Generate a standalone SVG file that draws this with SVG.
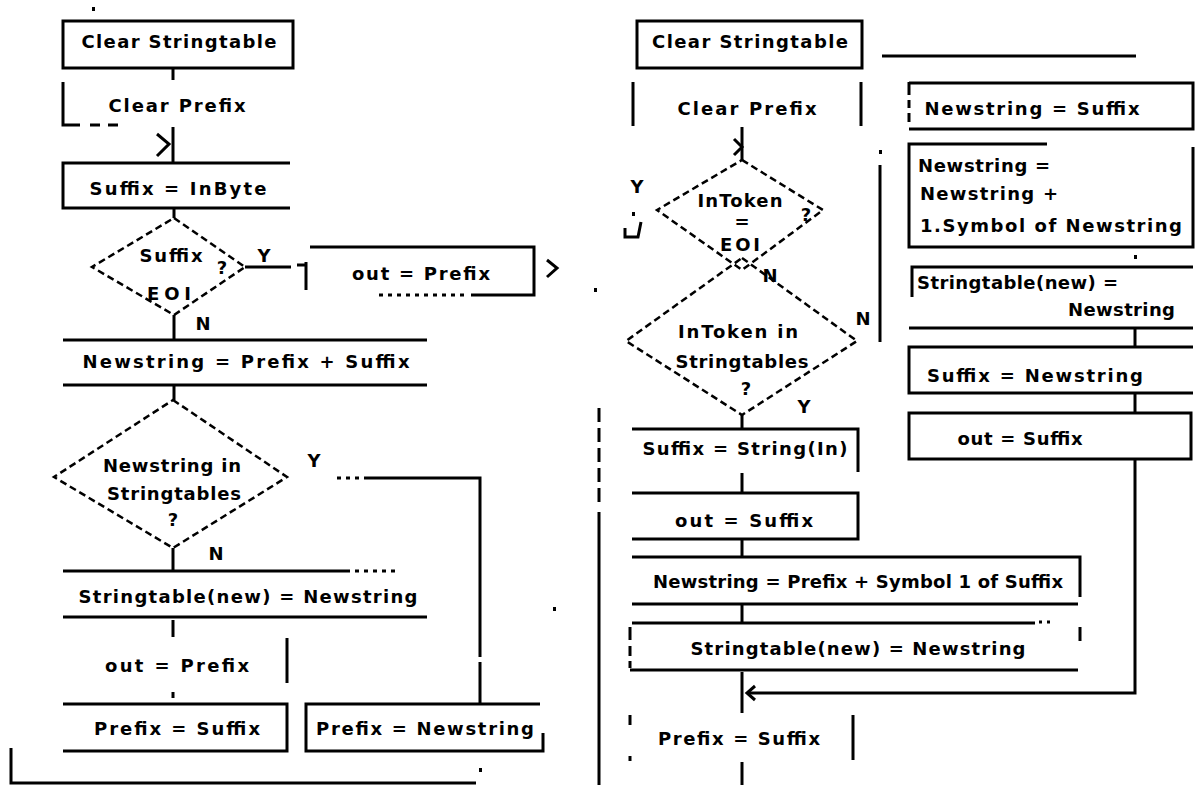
<svg xmlns="http://www.w3.org/2000/svg" width="1198" height="785" viewBox="0 0 1198 785">
<style>
.ln{stroke:#000;stroke-width:3;fill:none}
.dm{stroke:#000;stroke-width:2.5;fill:none;stroke-dasharray:7 4}
.dt{stroke:#000;stroke-width:3;fill:none;stroke-dasharray:4 5}
.t{font-family:"DejaVu Sans",sans-serif;font-size:18px;font-weight:bold;fill:#000}
.c{text-anchor:middle}
.e{text-anchor:end}
.dot{fill:#000}
</style>
<rect width="1198" height="785" fill="#fff"/>

<g id="connectors">
  <path class="ln" d="M173 68 V80"/>
  <path class="ln" d="M173 127 V163"/>
  <path class="ln" d="M157 134 L169 144 L157 156" stroke-width="2.5"/>
  <path class="ln" d="M174 208 V218"/>
  <path class="ln" d="M245 267 H291 M297 265 H306"/>
  <path class="ln" d="M547 260 L557 268 L547 277" stroke-width="2.5"/>
  <path class="ln" d="M174 315 V340"/>
  <path class="ln" d="M174 385 V400"/>
  <path class="ln" d="M173 548 V571"/>
  <path class="dt" d="M337 478 H367"/>
  <path class="ln" d="M367 478 H480 V657 M480 662 V704"/>
  <path class="ln" d="M173 620 V637"/>
  <path class="ln" d="M173 692 V698"/>
  <path class="ln" d="M11 748 V783 H476"/>
  <path class="ln" d="M599 408 V505" stroke-dasharray="14 6"/>
  <path class="ln" d="M599 512 V785"/>
  <rect class="dot" x="92" y="7" width="3" height="4"/>
  <rect class="dot" x="594" y="288" width="3" height="4"/>
  <rect class="dot" x="553" y="607" width="3" height="4"/>
  <rect class="dot" x="479" y="768" width="3" height="4"/>

  <path class="ln" d="M882 56 H1136"/>
  <path class="ln" d="M742 127 V160"/>
  <path class="ln" d="M734 139 L742 147 L734 155" stroke-width="2.5"/>
  <path class="ln" d="M625 228 V237 H638 L641 222" stroke-width="2.5"/>
  <rect class="dot" x="632" y="212" width="3" height="4"/>
  <path class="ln" d="M880 165 V342"/>
  <rect class="dot" x="879" y="150" width="3" height="4"/>
  <path class="ln" d="M742 415 V428"/>
  <path class="ln" d="M742 473 V493"/>
  <path class="ln" d="M742 540 V557"/>
  <path class="ln" d="M742 604 V623"/>
  <path class="ln" d="M742 672 V713"/>
  <path class="ln" d="M742 762 V785"/>
  <path class="ln" d="M1135 328 V347"/>
  <path class="ln" d="M1135 393 V413"/>
  <path class="ln" d="M1135 459 V693 H748"/>
  <path class="ln" d="M755 686 L747 693 L755 700" stroke-width="2.5"/>
  <rect class="dot" x="1134" y="255" width="3" height="4"/>

  <text class="t c" x="264" y="262">Y</text>
  <text class="t c" x="203" y="330">N</text>
  <text class="t c" x="314" y="467">Y</text>
  <text class="t c" x="216" y="560">N</text>
  <text class="t c" x="637" y="193">Y</text>
  <text class="t c" x="770" y="282">N</text>
  <text class="t c" x="804" y="413">Y</text>
  <text class="t c" x="863" y="325">N</text>
</g>

<g id="l-clear-table">
  <rect class="ln" x="63" y="21" width="230" height="47"/>
  <text class="t c" x="179" y="48" textLength="195">Clear Stringtable</text>
</g>
<g id="l-clear-prefix">
  <path class="ln" d="M63 82 V125 H80 M90 125 H100 M108 125 H118"/>
  <text class="t c" x="177" y="112" textLength="137">Clear Prefix</text>
</g>
<g id="l-suffix-inbyte">
  <path class="ln" d="M290 163 H63 V208 H290"/>
  <text class="t c" x="178" y="195" textLength="177">Suffix = InByte</text>
</g>
<g id="l-dec-eoi">
  <polygon class="dm" points="174,218 245,267 174,315 92,267"/>
  <text class="t c" x="171" y="262" textLength="63">Suffix</text>
  <text class="t c" x="169" y="300" textLength="44">EOI</text>
  <text class="t c" x="222" y="274">?</text>
</g>
<g id="l-out-prefix1">
  <path class="ln" d="M310 247 H534 V295 H471 M306 262 V290"/>
  <path class="dt" d="M379 295 H466"/>
  <text class="t c" x="421" y="280" textLength="138">out = Prefix</text>
</g>
<g id="l-newstring">
  <path class="ln" d="M63 340 H427 M63 385 H427"/>
  <text class="t c" x="246" y="368" textLength="327">Newstring = Prefix + Suffix</text>
</g>
<g id="l-dec-in">
  <polygon class="dm" points="173,400 287,477 173,548 54,477"/>
  <text class="t c" x="172" y="472" textLength="138">Newstring in</text>
  <text class="t c" x="174" y="500" textLength="134">Stringtables</text>
  <text class="t c" x="173" y="526">?</text>
</g>
<g id="l-stringtable">
  <path class="ln" d="M63 571 H350 M63 617 H427"/>
  <path class="dt" d="M355 571 H397"/>
  <text class="t c" x="248" y="603" textLength="339">Stringtable(new) = Newstring</text>
</g>
<g id="l-out-prefix2">
  <path class="ln" d="M287 638 V683"/>
  <text class="t c" x="177" y="672" textLength="144">out = Prefix</text>
</g>
<g id="l-prefix-suffix">
  <path class="ln" d="M63 704 H287 V751 H63"/>
  <text class="t c" x="177" y="735" textLength="166">Prefix = Suffix</text>
</g>
<g id="l-prefix-newstring">
  <path class="ln" d="M540 704 H306 V751 H543 V733"/>
  <text class="t c" x="425" y="735" textLength="218">Prefix = Newstring</text>
</g>

<g id="r-clear-table">
  <rect class="ln" x="637" y="21" width="225" height="47"/>
  <text class="t c" x="750" y="48" textLength="196">Clear Stringtable</text>
</g>
<g id="r-clear-prefix">
  <path class="ln" d="M633 82 V126 M861 82 V126"/>
  <text class="t c" x="747" y="115" textLength="139">Clear Prefix</text>
</g>
<g id="r-dec-eoi">
  <polygon class="dm" points="742,160 823,210 742,270 657,210"/>
  <text class="t c" x="740" y="207" textLength="85">InToken</text>
  <text class="t c" x="742" y="228" font-size="13">=</text>
  <text class="t c" x="740" y="251" textLength="40">EOI</text>
  <text class="t c" x="806" y="221">?</text>
</g>
<g id="r-dec-in">
  <polygon class="dm" points="742,258 857,341 742,415 626,341"/>
  <text class="t c" x="738" y="338" textLength="120">InToken in</text>
  <text class="t c" x="742" y="368" textLength="133">Stringtables</text>
  <text class="t c" x="746" y="395">?</text>
</g>
<g id="r-suffix-string">
  <path class="ln" d="M632 429 H858 V472"/>
  <text class="t c" x="745" y="455" textLength="205">Suffix = String(In)</text>
</g>
<g id="r-out-suffix">
  <path class="ln" d="M632 493 H858 V539 H632"/>
  <text class="t c" x="744" y="527" textLength="138">out = Suffix</text>
</g>
<g id="r-newstring">
  <path class="ln" d="M632 557 H1080 V597 M632 604 H1078"/>
  <text class="t c" x="858" y="588" textLength="410">Newstring = Prefix + Symbol 1 of Suffix</text>
</g>
<g id="r-stringtable">
  <path class="ln" d="M632 623 H1035 M630 670 H1078 M1080 627 V641"/>
  <path class="ln" d="M630 627 V640 M630 646 V656 M630 661 V668"/>
  <path class="ln" d="M1039 622 h3 M1047 622 h3" stroke-width="2"/>
  <text class="t c" x="858" y="655" textLength="335">Stringtable(new) = Newstring</text>
</g>
<g id="r-prefix-suffix">
  <path class="ln" d="M630 715 V725 M630 756 V761 M853 715 V760"/>
  <text class="t c" x="739" y="745" textLength="162">Prefix = Suffix</text>
</g>

<g id="c-newstring-suffix">
  <path class="ln" d="M909 83 H1193 V129 H909"/>
  <path class="ln" d="M909 82 V95 M909 100 V108 M909 113 V122"/>
  <text class="t c" x="1032" y="115" textLength="215">Newstring = Suffix</text>
</g>
<g id="c-newstring-symbol">
  <path class="ln" d="M1047 144 H909 V247 H1193 V147"/>
  <text class="t" x="918" y="172" textLength="132">Newstring =</text>
  <text class="t" x="920" y="200" textLength="138">Newstring +</text>
  <text class="t" x="920" y="232" textLength="262">1.Symbol of Newstring</text>
</g>
<g id="c-stringtable">
  <path class="ln" d="M1193 267 H912 V297 M909 328 H1193"/>
  <text class="t" x="917" y="289" textLength="201">Stringtable(new) =</text>
  <text class="t e" x="1175" y="316" textLength="107">Newstring</text>
</g>
<g id="c-suffix-newstring">
  <path class="ln" d="M1193 347 H909 V393 H1193"/>
  <text class="t c" x="1035" y="382" textLength="216">Suffix = Newstring</text>
</g>
<g id="c-out-suffix">
  <rect class="ln" x="909" y="413" width="282" height="46"/>
  <text class="t c" x="1020" y="445" textLength="125">out = Suffix</text>
</g>
</svg>
